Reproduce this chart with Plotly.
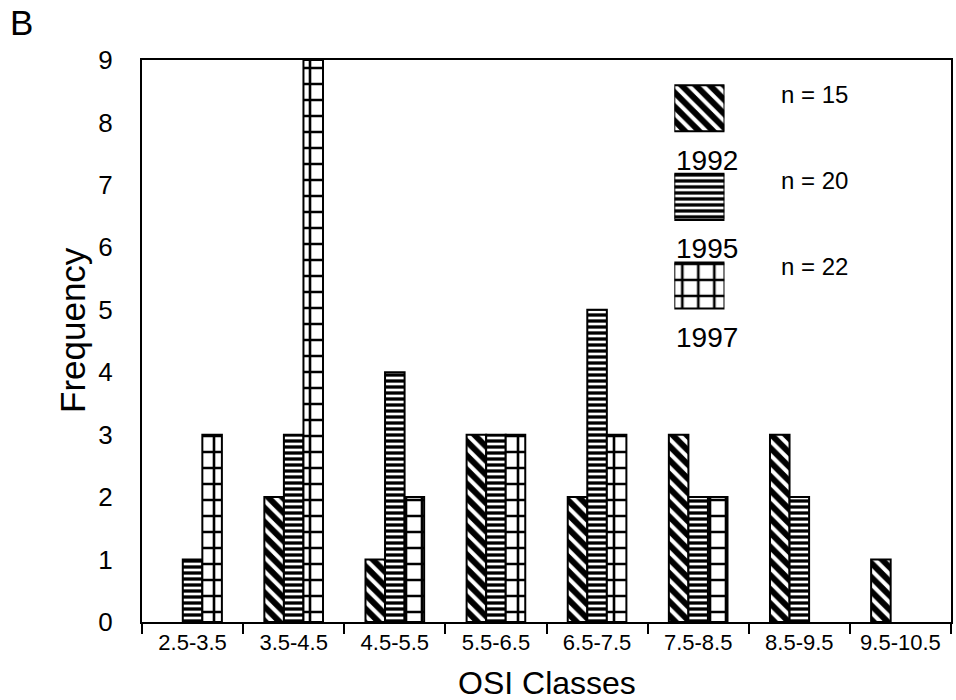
import plotly.graph_objects as go

# OSI class frequencies per survey year
classes = ["2.5-3.5", "3.5-4.5", "4.5-5.5", "5.5-6.5",
           "6.5-7.5", "7.5-8.5", "8.5-9.5", "9.5-10.5"]
freq_1992 = [0, 2, 1, 3, 2, 3, 3, 1]
freq_1995 = [1, 3, 4, 3, 5, 2, 2, 0]
freq_1997 = [3, 9, 2, 3, 3, 2, 0, 0]
years = ["1992", "1995", "1997"]
counts = ["n = 15", "n = 20", "n = 22"]
y_ticks = list(range(0, 10))

FONT = "Liberation Sans, Arial, Helvetica, sans-serif"
patterns = [
    dict(shape="\\", size=10, solidity=0.6, fgcolor="black",
         bgcolor="white", fgopacity=1),
    dict(shape="-", size=6, solidity=0.55, fgcolor="black",
         bgcolor="white", fgopacity=1),
    dict(shape="+", size=16, solidity=0.3, fgcolor="black",
         bgcolor="white", fgopacity=1),
]


def nonzero(vals):
    # empty classes get no bar at all
    return [v if v else None for v in vals]


fig = go.Figure()
for year, vals, pat in zip(years, [freq_1992, freq_1995, freq_1997], patterns):
    fig.add_trace(go.Bar(
        x=classes, y=nonzero(vals), name=year,
        marker=dict(color="white", pattern=pat,
                    line=dict(color="black", width=2)),
        showlegend=False,
    ))

# key swatches drawn on their own small axes
for i, pat in enumerate(patterns):
    fig.add_trace(go.Bar(
        x=[1], y=[i], orientation="h", width=0.52,
        marker=dict(color="white", pattern=pat,
                    line=dict(color="black", width=2)),
        xaxis="x2", yaxis="y2", showlegend=False, hoverinfo="skip",
    ))

fig.update_layout(
    width=956, height=700,
    margin=dict(l=142, r=3, t=60, b=78),
    paper_bgcolor="white", plot_bgcolor="white",
    barmode="group", bargap=0.42, bargroupgap=0,
    font=dict(family=FONT, color="black"),
    xaxis=dict(
        showline=True, linecolor="black", linewidth=2, mirror=True,
        showgrid=False, ticks="outside", ticklen=10, tickwidth=2,
        tickcolor="black", tickson="boundaries",
        tickfont=dict(size=22), zeroline=False,
    ),
    yaxis=dict(
        range=[0, 9], tickvals=y_ticks, showline=True, linecolor="black",
        linewidth=2, mirror=True, showgrid=False, zeroline=False,
        ticks="", ticklabelstandoff=22, tickfont=dict(size=26),
    ),
    xaxis2=dict(domain=[0.658, 0.720], range=[0, 1], visible=False,
                fixedrange=True),
    yaxis2=dict(domain=[0.520, 0.993], range=[2.5, -0.5], visible=False,
                fixedrange=True, anchor="x2"),
)

annotations = [
    dict(text="OSI Classes", x=0.5, y=-0.108, xref="paper", yref="paper",
         xanchor="center", yanchor="middle", showarrow=False,
         font=dict(size=32)),
    dict(text="Frequency", x=-0.085, y=0.52, xref="paper", yref="paper",
         xanchor="center", yanchor="middle", showarrow=False,
         textangle=-90, font=dict(size=35)),
    dict(text="B", x=-0.149, y=1.066, xref="paper", yref="paper",
         xanchor="center", yanchor="middle", showarrow=False,
         font=dict(size=35)),
]
year_y = [0.822, 0.665, 0.507]
count_y = [0.938, 0.785, 0.632]
for year, yy in zip(years, year_y):
    annotations.append(dict(text=year, x=0.658, y=yy, xref="paper",
                            yref="paper", xanchor="left", yanchor="middle",
                            showarrow=False, font=dict(size=28)))
for cnt, yy in zip(counts, count_y):
    annotations.append(dict(text=cnt, x=0.787, y=yy, xref="paper",
                            yref="paper", xanchor="left", yanchor="middle",
                            showarrow=False, font=dict(size=24)))
fig.update_layout(annotations=annotations)

fig.write_html("out.html")
